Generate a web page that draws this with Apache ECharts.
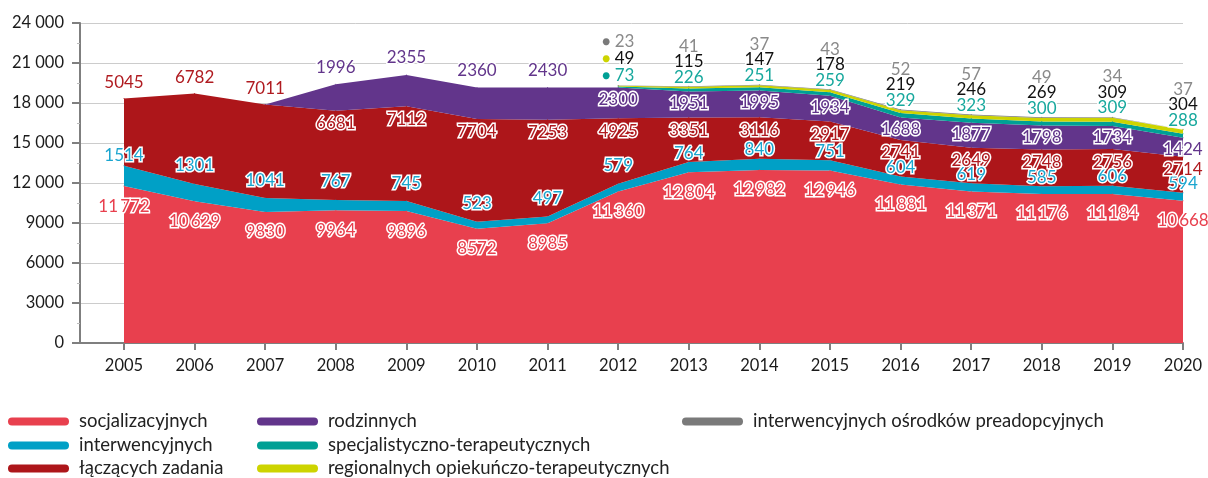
<!DOCTYPE html>
<html><head><meta charset="utf-8">
<script src="https://cdn.jsdelivr.net/npm/echarts@6/dist/echarts.min.js"></script>
<style>html,body{margin:0;padding:0;background:#fff}#c{width:1208px;height:478px}</style>
</head><body><div id="c"></div>
<script>
const years = ['2005','2006','2007','2008','2009','2010','2011','2012','2013','2014','2015','2016','2017','2018','2019','2020'];
const socjalizacyjnych = [11772,10629,9830,9964,9896,8572,8985,11360,12804,12982,12946,11881,11371,11176,11184,10668];
const interwencyjnych = [1514,1301,1041,767,745,523,497,579,764,840,751,604,619,585,606,594];
const laczacychZadania = [5045,6782,7011,6681,7112,7704,7253,4925,3351,3116,2917,2741,2649,2748,2756,2714];
const rodzinnych = [null,null,0,1996,2355,2360,2430,2300,1951,1995,1934,1688,1877,1798,1734,1424];
const specjalistyczno = [null,null,null,null,null,null,null,73,226,251,259,329,323,300,309,288];
const regionalnych = [null,null,null,null,null,null,null,49,115,147,178,219,246,269,309,304];
const preadopcyjnych = [null,null,null,null,null,null,null,23,41,37,43,52,57,49,34,37];
const yMax = 24000, yStep = 3000;

const names = ['socjalizacyjnych','interwencyjnych','łączących zadania','rodzinnych',
  'specjalistyczno-terapeutycznych','regionalnych opiekuńczo-terapeutycznych','interwencyjnych ośrodków preadopcyjnych'];
const colors = ['#e8404e','#00a0c6','#ad161a','#62358b','#00a095','#cdd400','#7a7a7a'];
const labelColors = ['#e8404e','#1aa5cf','#b01b20','#62358b','#17a89d','#111111','#8a8a8a'];
const FONT = 'Lato';
const LFS = 17;

function fmt(v, sep){
  const s = String(v);
  if (v >= 10000) return s.slice(0, s.length-3) + sep + s.slice(-3);
  return s;
}

function items(arr, posFn){
  return arr.map((v,i) => {
    if (v === null) return '-';
    const p = posFn(i, v);
    if (!p) return {value: v, label: {show: false}};
    return {value: v, label: {position: p[0], distance: p[1]}};
  });
}

function areaSeries(idx, data, labelCfg){
  return Object.assign({
    name: names[idx], type: 'line', stack: 'all', xAxisIndex: 1, yAxisIndex: 1,
    data: data, showSymbol: true, symbol: 'circle', symbolSize: 1,
    itemStyle: {color: colors[idx]},
    lineStyle: {width: 0, color: colors[idx]},
    areaStyle: {color: colors[idx], opacity: 1},
    emphasis: {disabled: true}, silent: true,
    label: Object.assign({
      show: true, fontFamily: FONT, fontSize: LFS, color: labelColors[idx],
      textBorderColor: '#fff', textBorderWidth: 3,
      formatter: p => fmt(p.value, '\u2009')
    }, labelCfg || {})
  });
}

const series = [
  areaSeries(0, items(socjalizacyjnych, () => ['bottom', 11])),
  areaSeries(1, items(interwencyjnych, i => i === 0 ? ['top', 1] : (i <= 7 ? ['top', 9] : ['top', 0]))),
  areaSeries(2, items(laczacychZadania, i => i <= 2 ? ['top', 7] : ['bottom', 4])),
  areaSeries(3, items(rodzinnych, (i, v) => v === 0 ? null : (i <= 6 ? ['top', 8] : ['bottom', 3]))),
  areaSeries(4, items(specjalistyczno, () => null)),
  areaSeries(5, items(regionalnych, () => null)),
  areaSeries(6, items(preadopcyjnych, () => ['top', 1]), {
    formatter: p => {
      const i = p.dataIndex;
      if (i === 7) {
        return '{gd|●} {g|' + preadopcyjnych[i] + '}\n{yd|●} {k|' + regionalnych[i] + '}\n{td|●} {t|' + specjalistyczno[i] + '}';
      }
      return '{g|' + preadopcyjnych[i] + '}\n{k|' + regionalnych[i] + '}\n{t|' + specjalistyczno[i] + '}';
    },
    rich: {
      g: {color: labelColors[6], fontSize: LFS, lineHeight: 15.5, fontFamily: FONT},
      k: {color: labelColors[5], fontSize: LFS, lineHeight: 15.5, fontFamily: FONT},
      t: {color: labelColors[4], fontSize: LFS, lineHeight: 15.5, fontFamily: FONT},
      gd: {color: colors[6], fontSize: 14, lineHeight: 15.5},
      yd: {color: colors[5], fontSize: 14, lineHeight: 15.5},
      td: {color: colors[4], fontSize: 14, lineHeight: 15.5}
    }
  })
];

// legend layout: column left edges and row centre lines
const legendCols = [8, 257, 682];
const legendRows = [422, 446, 469];
const legendSlots = [[0,0],[0,1],[0,2],[1,0],[1,1],[1,2],[2,0]];
const pill = 'path://M4 0H57A4 4 0 0 1 57 8H4A4 4 0 0 1 4 0Z';
const legends = names.map((n, k) => ({
  left: legendCols[legendSlots[k][0]], top: legendRows[legendSlots[k][1]] - 10,
  orient: 'horizontal', padding: 0,
  itemWidth: 61, itemHeight: 8, icon: pill, selectedMode: false,
  textStyle: {fontFamily: FONT, fontSize: 18.5, color: '#222', padding: [0,0,0,5]},
  data: [n]
}));

const axisGray = '#7f7f7f';
const option = {
  animation: false,
  backgroundColor: '#fff',
  grid: [
    {left: 80, right: 25, top: 23, bottom: 135},
    {left: 124, right: 25, top: 23, bottom: 135}
  ],
  legend: legends,
  xAxis: [
    {gridIndex: 0, type: 'value', min: 0, max: 1,
     axisLine: {show: true, lineStyle: {color: axisGray, width: 2}},
     axisTick: {show: false}, axisLabel: {show: false}, splitLine: {show: false}},
    {gridIndex: 1, type: 'category', data: years, boundaryGap: false,
     axisLine: {show: false},
     axisTick: {show: true, alignWithLabel: true, length: 7, lineStyle: {color: axisGray, width: 2}},
     axisLabel: {color: '#1a1a1a', fontSize: 16.5, fontFamily: FONT, margin: 14}}
  ],
  yAxis: [
    {gridIndex: 0, type: 'value', min: 0, max: yMax, interval: yStep,
     axisLine: {show: true, lineStyle: {color: axisGray, width: 2}},
     axisTick: {show: true, length: 8, lineStyle: {color: axisGray, width: 2}},
     minorTick: {show: true, splitNumber: 2, length: 3, lineStyle: {color: '#bbb', width: 1}},
     axisLabel: {color: '#1a1a1a', fontSize: 16.5, fontFamily: FONT, margin: 16, formatter: v => fmt(v, ' ')},
     splitLine: {show: true, lineStyle: {color: '#cccccc', width: 1}}},
    {gridIndex: 1, type: 'value', min: 0, max: yMax, show: false, splitLine: {show: false}}
  ],
  series: series
};
const chart = echarts.init(document.getElementById('c'), null, {renderer: 'canvas'});
chart.setOption(option);
</script></body></html>
